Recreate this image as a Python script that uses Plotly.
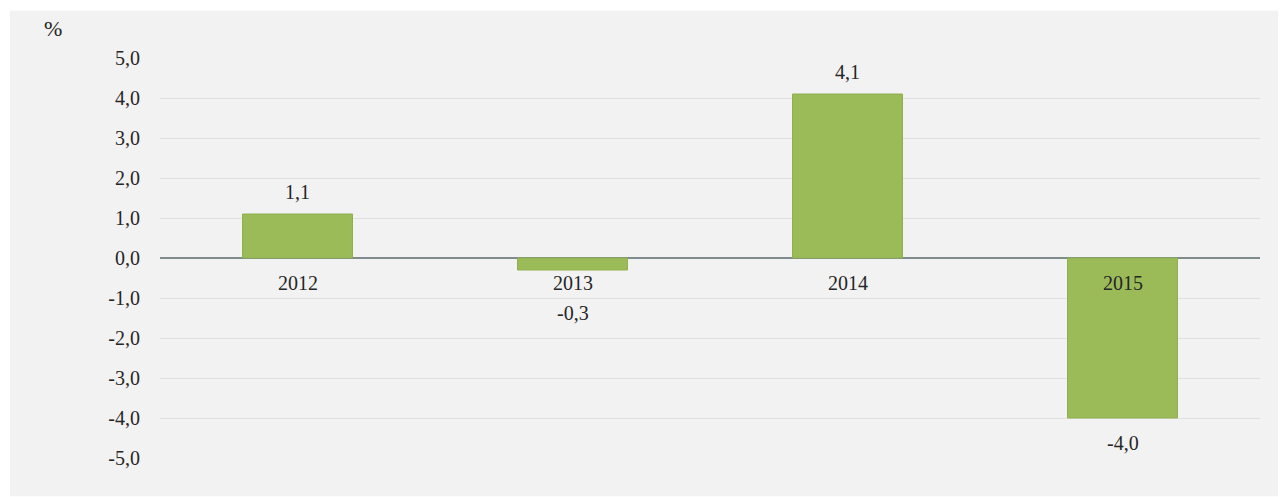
import plotly.graph_objects as go

# Annual change, %
years = ["2012", "2013", "2014", "2015"]
values = [1.1, -0.3, 4.1, -4.0]
# vertical offset (px) of each value label from the bar end
label_shift = [22, 43, 22, 25]

y_ticks = [5, 4, 3, 2, 1, 0, -1, -2, -3, -4, -5]

FONT = "Liberation Serif"
TEXT = "#262626"
BAR = "#9bbb59"
PANEL = "#f2f2f2"


def fmt(v):
    return f"{v:.1f}".replace(".", ",")


fig = go.Figure()
fig.add_trace(go.Bar(
    x=years, y=values,
    marker=dict(color=BAR, line=dict(color="#8fb04c", width=1)),
    hoverinfo="x+y",
))

# background panel behind the chart
fig.add_shape(type="rect", xref="paper", yref="paper",
              x0=-0.1364, x1=1.0164, y0=-0.0925, y1=1.115,
              fillcolor=PANEL, line=dict(width=0), layer="below")

# category labels sit just under the zero line (x = category index)
for i, yr in enumerate(years):
    fig.add_annotation(x=i, y=0, text=yr, showarrow=False,
                       yanchor="middle", yshift=-25,
                       font=dict(family=FONT, size=20, color=TEXT))

# value labels
for i, (v, s) in enumerate(zip(values, label_shift)):
    fig.add_annotation(x=i, y=v, text=fmt(v), showarrow=False,
                       yanchor="middle", yshift=s if v >= 0 else -s,
                       font=dict(family=FONT, size=20, color=TEXT))

fig.add_annotation(xref="paper", yref="paper", x=-0.0973, y=1.07,
                   text="%", showarrow=False, xanchor="center", yanchor="middle",
                   font=dict(family=FONT, size=22, color=TEXT))

fig.update_layout(
    width=1283, height=497,
    margin=dict(l=160, r=23, t=57, b=38),
    paper_bgcolor="white",
    plot_bgcolor=PANEL,
    showlegend=False,
    bargap=0.6,
    font=dict(family=FONT, size=20, color=TEXT),
    xaxis=dict(type="category", range=[-0.5, len(years) - 0.5],
               showticklabels=False, showgrid=False,
               zeroline=False, showline=False, ticks=""),
    yaxis=dict(range=[-5.025, 5.025], tickvals=y_ticks,
               ticktext=[fmt(t) for t in y_ticks],
               showgrid=True, gridcolor="#e0e0e0", gridwidth=1,
               zeroline=True, zerolinecolor="#7f8c8d", zerolinewidth=2,
               showline=False, ticks="", ticklabelstandoff=19,
               tickfont=dict(family=FONT, size=20, color=TEXT)),
)

fig.write_html("out.html")
